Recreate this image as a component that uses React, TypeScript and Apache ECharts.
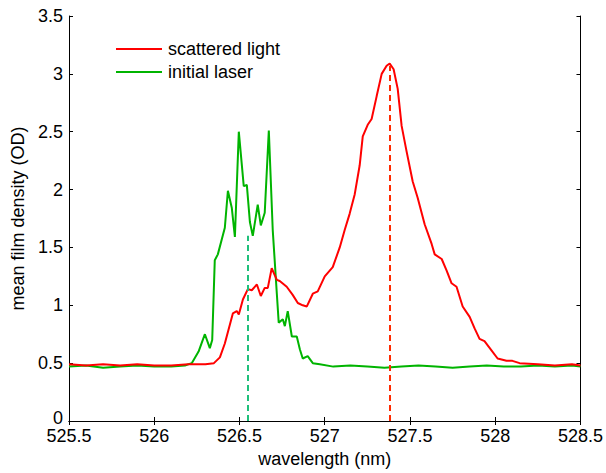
import React, { useEffect, useRef } from "react";
import * as echarts from "echarts";

const xTicks = [525.5, 528.5, 0.5];
const yTicks = [0, 3.5, 0.5];

const seriesNames = ["scattered light", "initial laser"];

const greenWl = [
  525.5, 525.6, 525.7, 525.8, 525.9, 526.0, 526.1, 526.18, 526.22, 526.26, 526.297, 526.326, 526.34,
  526.355, 526.373, 526.414, 526.432, 526.455, 526.473, 526.496, 526.525, 526.543, 526.561, 526.578,
  526.607, 526.625, 526.648, 526.672, 526.695, 526.719, 526.73, 526.754, 526.766, 526.783, 526.807,
  526.836, 526.854, 526.871, 526.9, 526.93, 526.971, 527.05, 527.15, 527.25, 527.35, 527.45, 527.55,
  527.65, 527.75, 527.85, 527.95, 528.05, 528.15, 528.25, 528.35, 528.45, 528.5,
];
const greenOD = [
  0.47, 0.48, 0.46, 0.47, 0.48, 0.47, 0.47, 0.48, 0.5, 0.6, 0.75, 0.63, 0.7,
  1.39, 1.44, 1.67, 1.99, 1.84, 1.59, 2.5, 2.03, 2.04, 1.72, 1.6,
  1.87, 1.69, 1.8, 2.51, 1.65, 1.1, 0.85, 0.88, 0.82, 0.95, 0.73,
  0.73, 0.62, 0.54, 0.56, 0.5, 0.49, 0.47, 0.48, 0.47, 0.46, 0.47, 0.48,
  0.47, 0.46, 0.47, 0.48, 0.47, 0.47, 0.48, 0.47, 0.48, 0.47,
];

const redWl = [
  525.5, 525.6, 525.7, 525.8, 525.9, 526.0, 526.1, 526.2, 526.3, 526.35, 526.385, 526.414, 526.461,
  526.484, 526.496, 526.52, 526.549, 526.572, 526.602, 526.625, 526.648, 526.666, 526.689, 526.719,
  526.736, 526.777, 526.812, 526.842, 526.871, 526.895, 526.93, 526.959, 527.0, 527.047, 527.088,
  527.117, 527.146, 527.176, 527.205, 527.223, 527.252, 527.275, 527.305, 527.334, 527.363, 527.381,
  527.404, 527.428, 527.451, 527.48, 527.516, 527.545, 527.586, 527.627, 527.645, 527.686, 527.715,
  527.744, 527.773, 527.809, 527.85, 527.879, 527.908, 527.937, 527.978, 528.014, 528.066, 528.101,
  528.143, 528.25, 528.35, 528.45, 528.5,
];
const redOD = [
  0.49, 0.48, 0.49, 0.48, 0.49, 0.48, 0.48, 0.49, 0.49, 0.5, 0.55, 0.67, 0.93,
  0.95, 0.92, 1.05, 1.14, 1.13, 1.18, 1.08, 1.15, 1.15, 1.32, 1.22,
  1.21, 1.16, 1.09, 1.02, 1.0, 0.99, 1.1, 1.12, 1.25, 1.33, 1.5,
  1.65, 1.79, 1.96, 2.21, 2.46, 2.56, 2.61, 2.81, 3.0, 3.07, 3.09,
  3.04, 2.87, 2.55, 2.33, 2.07, 1.93, 1.7, 1.53, 1.44, 1.4, 1.3,
  1.19, 1.16, 0.99, 0.9, 0.8, 0.71, 0.69, 0.61, 0.54, 0.52, 0.52,
  0.5, 0.49, 0.48, 0.49, 0.48,
];

// dashed peak markers: [wavelength, top OD]
const redMarker = [527.38, 3.07];
const greenMarker = [526.55, 1.6];

const FONT = "'Liberation Sans', Arial, sans-serif";

export default function App() {
  const ref = useRef<HTMLDivElement>(null);
  useEffect(() => {
    if (!ref.current) return;
    const chart = echarts.init(ref.current, null, { renderer: "svg" });
    const axisLine = { show: true, lineStyle: { color: "#000", width: 1 } };
    const tick = { show: true, inside: true, length: 4, lineStyle: { color: "#000" } };
    chart.setOption({
      animation: false,
      backgroundColor: "#fff",
      textStyle: { fontFamily: FONT },
      grid: { left: 69, right: 25, top: 16, bottom: 47 },
      legend: {
        show: true,
        orient: "vertical",
        left: 116,
        top: 40,
        padding: 0,
        itemGap: 5,
        itemWidth: 46,
        itemHeight: 2,
        icon: "rect",
        data: seriesNames,
        textStyle: { fontSize: 18, color: "#000", fontFamily: FONT, padding: [0, 0, 0, 1] },
      },
      xAxis: [
        {
          type: "value",
          min: xTicks[0],
          max: xTicks[1],
          interval: xTicks[2],
          name: "wavelength (nm)",
          nameLocation: "middle",
          nameGap: 29,
          nameTextStyle: { fontSize: 18, color: "#000", fontFamily: FONT },
          axisLine,
          axisTick: tick,
          axisLabel: { fontSize: 18, lineHeight: 14, color: "#000", margin: 8, fontFamily: FONT },
          splitLine: { show: false },
        },
        {
          type: "value",
          position: "top",
          min: xTicks[0],
          max: xTicks[1],
          interval: xTicks[2],
          axisLine,
          axisTick: tick,
          axisLabel: { show: false },
          splitLine: { show: false },
        },
      ],
      yAxis: [
        {
          type: "value",
          min: yTicks[0],
          max: yTicks[1],
          interval: yTicks[2],
          name: "mean film density (OD)",
          nameLocation: "middle",
          nameGap: 35,
          nameTextStyle: { fontSize: 18, color: "#000", fontFamily: FONT },
          axisLine,
          axisTick: tick,
          axisLabel: {
            fontSize: 18,
            lineHeight: 12,
            color: "#000",
            margin: 6,
            fontFamily: FONT,
            formatter: (v: number) => (v === 0 ? "{z|0}" : String(v)),
            rich: { z: { fontSize: 18, lineHeight: 12, color: "#000", fontFamily: FONT, padding: [0, 0, 7, 0] } },
          },
          splitLine: { show: false },
        },
        {
          type: "value",
          position: "right",
          min: yTicks[0],
          max: yTicks[1],
          interval: yTicks[2],
          axisLine,
          axisTick: tick,
          axisLabel: { show: false },
          splitLine: { show: false },
        },
      ],
      series: [
        {
          name: seriesNames[0],
          type: "line",
          showSymbol: false,
          symbol: "none",
          color: "#ff0000",
          lineStyle: { color: "#ff0000", width: 2 },
          data: redWl.map((w, i) => [w, redOD[i]]),
          z: 3,
          markLine: {
            silent: true,
            symbol: "none",
            label: { show: false },
            lineStyle: { color: "#ff2a00", type: [6, 4], width: 2 },
            data: [[{ coord: [redMarker[0], 0] }, { coord: [redMarker[0], redMarker[1]] }]],
          },
        },
        {
          name: seriesNames[1],
          type: "line",
          showSymbol: false,
          symbol: "none",
          color: "#00b400",
          lineStyle: { color: "#00b400", width: 2 },
          data: greenWl.map((w, i) => [w, greenOD[i]]),
          z: 2,
          markLine: {
            silent: true,
            symbol: "none",
            label: { show: false },
            lineStyle: { color: "#1fbf7a", type: [6, 4], width: 2 },
            data: [[{ coord: [greenMarker[0], 0] }, { coord: [greenMarker[0], greenMarker[1]] }]],
          },
        },
      ],
    });
    return () => chart.dispose();
  }, []);
  return <div ref={ref} style={{ width: 606, height: 473, position: "absolute", left: 0, top: 0 }} />;
}
